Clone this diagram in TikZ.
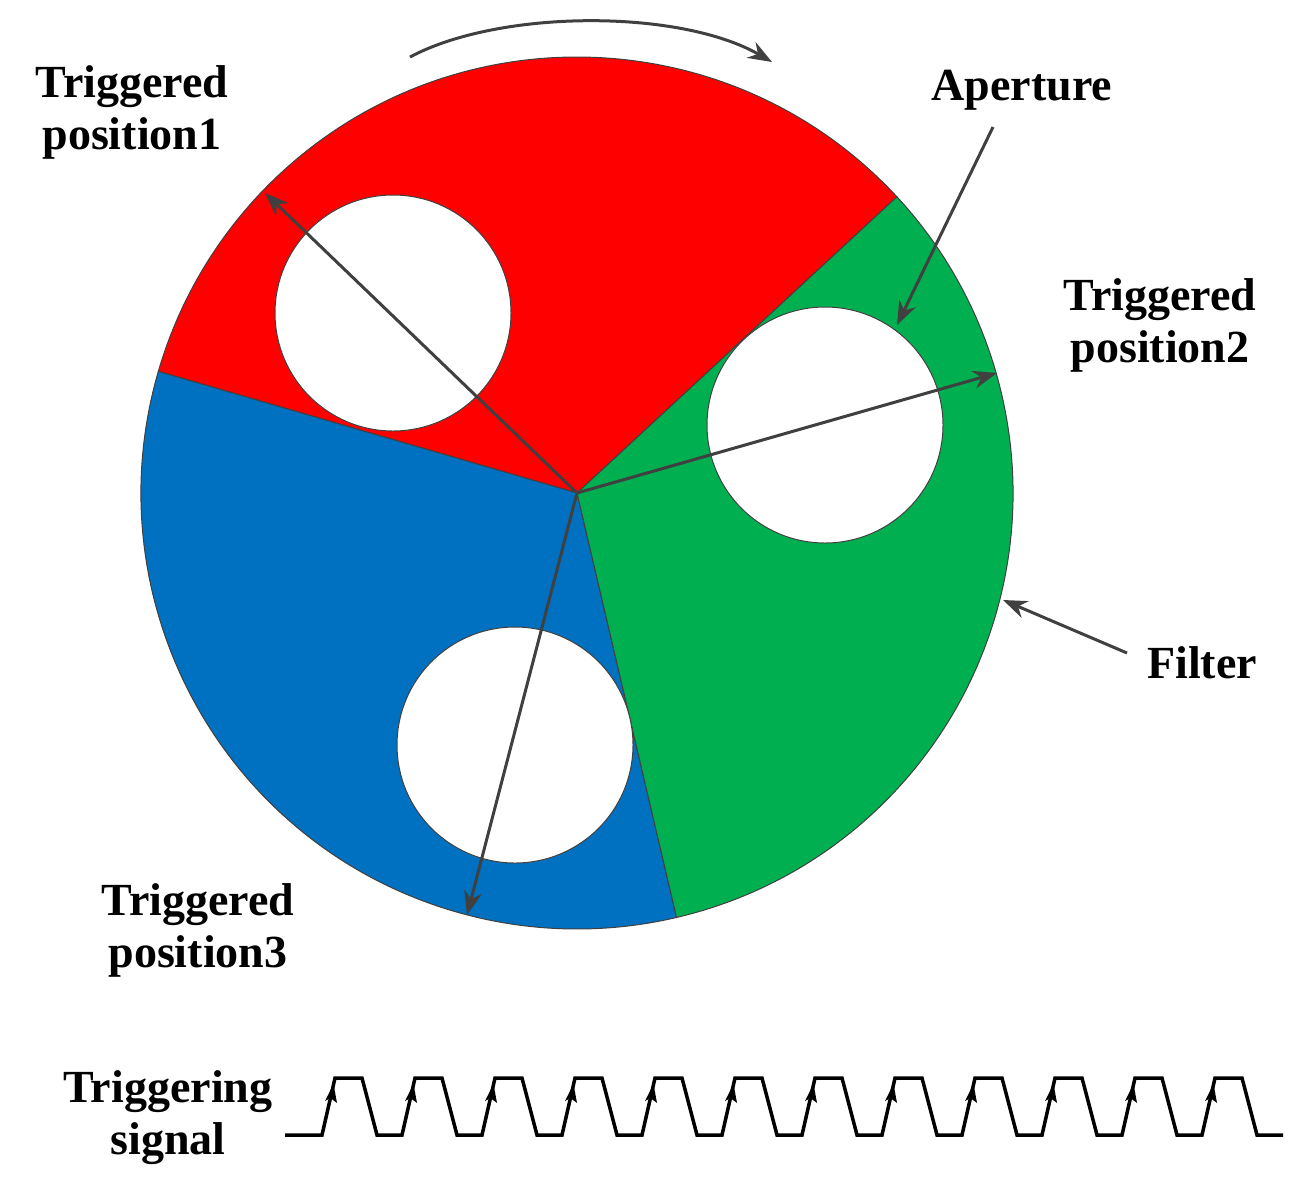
\documentclass[tikz,border=0pt]{standalone}
\usepackage{fontspec}
\setmainfont{Liberation Serif}
\usetikzlibrary{arrows.meta}
\definecolor{cred}{RGB}{255,0,0}
\definecolor{cgreen}{RGB}{0,176,80}
\definecolor{cblue}{RGB}{0,112,192}
\definecolor{cgray}{RGB}{64,64,64}
\begin{document}
\begin{tikzpicture}[x=1pt,y=-1pt,
  lbl/.style={font=\fontsize{46}{52}\selectfont\bfseries, align=center},
  arr/.style={draw=cgray, line width=3pt, -{Stealth[length=24pt,width=18pt]}},
  sect/.style={draw=cgray, line width=1pt},
  hole/.style={fill=white, draw=cgray, line width=1pt}]
\useasboundingbox (0,0) rectangle (1300,1192);
\coordinate (c) at (577,493);
\def\R{436}
\fill[cred,sect] (c) -- ++(-42.8:\R) arc[start angle=-42.8, end angle=-163.8, radius=\R] -- cycle;
\fill[cblue,sect] (c) -- ++(-163.8:\R) arc[start angle=-163.8, end angle=-283.2, radius=\R] -- cycle;
\fill[cgreen,sect] (c) -- ++(76.8:\R) arc[start angle=76.8, end angle=-42.8, radius=\R] -- cycle;
\draw[hole] (393,313) circle[radius=118];
\draw[hole] (825,425) circle[radius=118];
\draw[hole] (515,745) circle[radius=118];
\coordinate (p1) at (265,193);
\coordinate (p2) at (997,373);
\coordinate (p3) at (467,915);
\draw[arr] (c) -- (p1);
\draw[arr] (c) -- (p2);
\draw[arr] (c) -- (p3);
\node[lbl] (t1) at (132,112) {Triggered\\position1};
\node[lbl] (ap) at (1022,90) {Aperture};
\node[lbl] (t2) at (1160,325) {Triggered\\position2};
\node[lbl] (fi) at (1202,663) {Filter};
\node[lbl] (t3) at (198,930) {Triggered\\position3};
\node[lbl] (ts) at (168,1118) {Triggering\\signal};
\coordinate (apE) at (897,325);
\coordinate (fiE) at (1003,600);
\draw[arr] (993,127) -- (apE);
\draw[arr] (1127,653) -- (fiE);
\coordinate (r1) at (410,57);
\coordinate (r2) at (772,62);
\draw[arr] (r1) .. controls (500,9) and (680,9) .. (r2);
\draw[line width=3.5pt, line join=miter] (285,1135)
  \foreach \i in {0,...,11}{ -- ({322+80*\i},1135) -- ({335+80*\i},1078) -- ({362+80*\i},1078) -- ({377+80*\i},1135) }
  -- (1283,1135);
\foreach \i in {0,...,11}{
  \fill ({333.5+80*\i},1084) -- ({325+80*\i},1101) -- ({330.5+80*\i},1098) -- ({337+80*\i},1103) -- cycle;
}
\end{tikzpicture}
\end{document}
